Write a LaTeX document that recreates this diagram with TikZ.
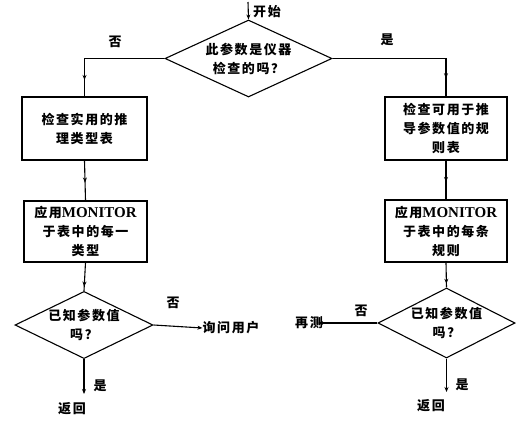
\documentclass[tikz,border=0pt]{standalone}
\usepackage{fontspec}
\setmainfont{Liberation Serif}
\newfontfamily\cjk{Noto Sans CJK SC}[LetterSpace=12]
\usetikzlibrary{shapes.geometric,arrows.meta,decorations.markings}
\begin{document}
\begin{tikzpicture}[x=1pt,y=-1pt,
  txt/.style={font=\cjk\bfseries\fontsize{13}{19}\selectfont, inner sep=0pt, align=center},
  box/.style={txt, draw, line width=1.1pt},
  dia/.style={txt, draw, line width=1.1pt, diamond, aspect=2},
  conn/.style={line width=1.1pt},
  arr/.style={conn, -{Stealth[length=5pt,width=4pt]}},
  midarr/.style={conn, postaction={decorate}, decoration={markings, mark=at position #1 with {\arrow{Stealth[length=5pt,width=4pt]}}}},
  mon/.style={}
]
\useasboundingbox (0,0) rectangle (520,423);

\coordinate (s) at (248,2);
\node[txt] (start) at (267,12) {开始};
\node[dia, minimum width=167pt, minimum height=77pt] (d0) at (248.5,58.5) {此参数是仪器\\检查的吗？};
\draw[arr] (s) -- (d0.north);

\node[box, minimum width=125pt, minimum height=63pt] (lb1) at (84.5,128.5) {检查实用的推\\理类型表};
\node[box, minimum width=123pt, minimum height=61pt] (lb2) at (85.5,231.5) {应用{\rmfamily\bfseries\fontsize{15}{17}\selectfont MONITOR}\\于表中的每一\\类型};
\node[dia, minimum width=138pt, minimum height=66pt] (ld) at (84,325) {已知参数值\\吗？};

\node[box, minimum width=122pt, minimum height=63pt] (rb1) at (446,128.5) {检查可用于推\\导参数值的规\\则表};
\node[box, minimum width=122pt, minimum height=62pt] (rb2) at (446,231) {应用{\rmfamily\bfseries\fontsize{15}{17}\selectfont MONITOR}\\于表中的每条\\规则};
\node[dia, minimum width=137pt, minimum height=70pt] (rd) at (446.5,323) {已知参数值\\吗？};

\draw[midarr=0.86] (d0.west) -| (lb1.north);
\draw[midarr=0.88] (d0.east) -| (rb1.north);
\node[txt] at (115,42) {否};
\node[txt] at (387,40) {是};

\draw[midarr=0.55] (lb1.south) -- (lb2.north);
\draw[midarr=0.55] (rb1.south) -- (rb2.north);
\draw[midarr=0.85] (lb2.south) -- (ld.north);
\draw[midarr=0.85] (rb2.south) -- (rd.north);

\node[txt] (ask) at (231,328) {询问用户};
\draw[arr] (ld.east) -- (ask.west);
\node[txt] at (173,303) {否};

\node[txt] (again) at (309,323) {再测};
\draw[arr] (rd.west) -- ([xshift=-5pt]again.east);
\node[txt] at (361,311) {否};

\coordinate (lr) at (84,394);
\draw[arr] (ld.south) -- (lr);
\node[txt] at (100,386) {是};
\node[txt] (ret1) at (72,409) {返回};

\coordinate (rr) at (446.5,392);
\draw[arr] (rd.south) -- (rr);
\node[txt] at (462,385) {是};
\node[txt] (ret2) at (431,406) {返回};
\end{tikzpicture}
\end{document}
